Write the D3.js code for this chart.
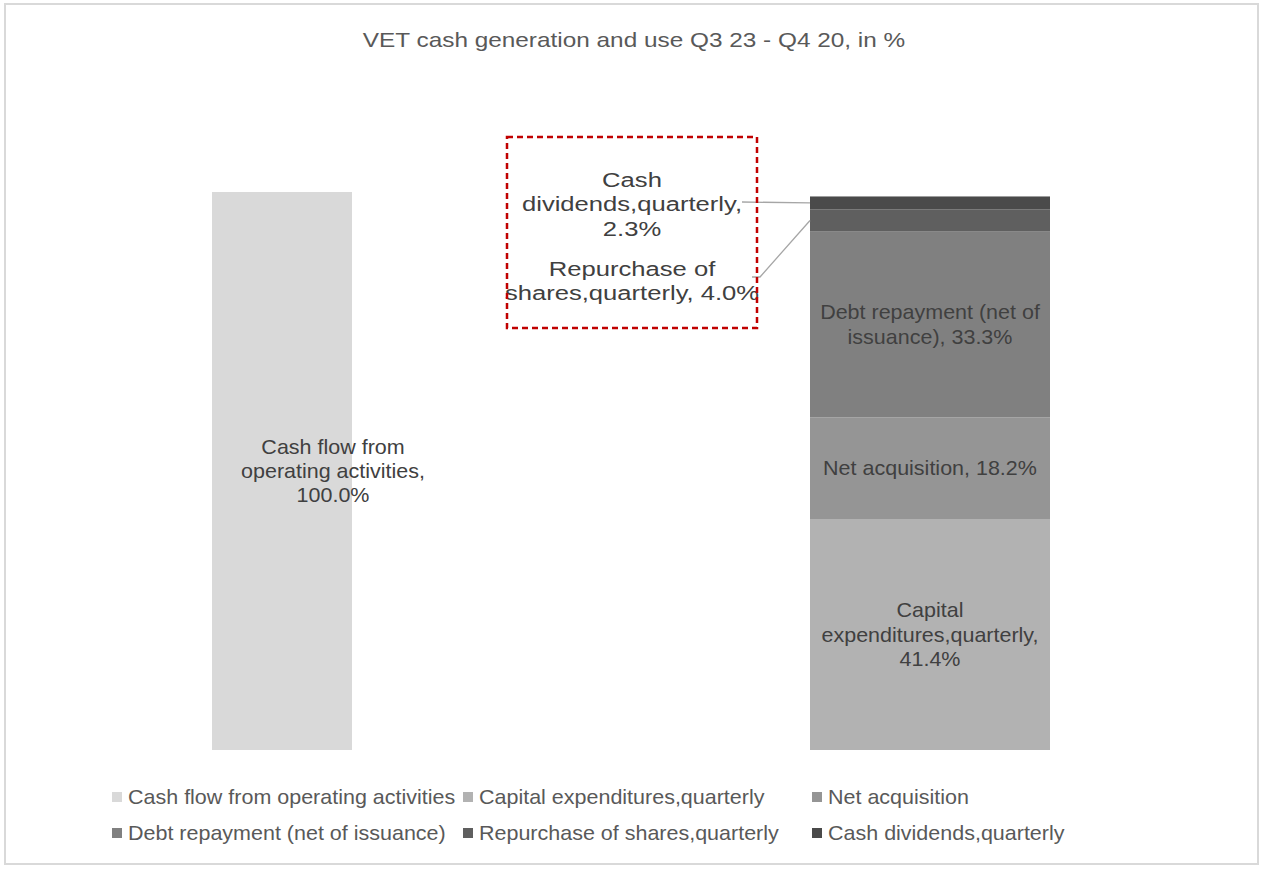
<!DOCTYPE html>
<html>
<head>
<meta charset="utf-8">
<script src="https://cdn.jsdelivr.net/npm/d3@7"></script>
<style>
  body { margin: 0; background: #fff; }
  text { font-family: "Liberation Sans", Arial, sans-serif; }
</style>
</head>
<body>
<div id="chart"></div>
<script>
// categories (bars) and stacked series
var bars = ["generation", "use"];
var seriesNames = [
    "Cash flow from operating activities",
    "Capital expenditures,quarterly",
    "Net acquisition",
    "Debt repayment (net of issuance)",
    "Repurchase of shares,quarterly",
    "Cash dividends,quarterly"
];
var seriesBar = ["generation", "use", "use", "use", "use", "use"];
var seriesValues = [100.0, 41.4, 18.2, 33.3, 4.0, 2.3];
var seriesLabels = [
    ["Cash flow from", "operating activities,", "100.0%"],
    ["Capital", "expenditures,quarterly,", "41.4%"],
    ["Net acquisition, 18.2%"],
    ["Debt repayment (net of", "issuance), 33.3%"],
    ["Repurchase of", "shares,quarterly, 4.0%"],
    ["Cash", "dividends,quarterly,", "2.3%"]
];
var colors = ["#d9d9d9", "#b2b2b2", "#959595", "#808080", "#5f5f5f", "#4a4a4a"];

var width = 1266, height = 871;
var barWidth = { generation: 140, use: 240 };
var labelShift = { generation: 51, use: 0 };

var svg = d3.select("#chart").append("svg")
    .attr("width", width)
    .attr("height", height);

// chart frame
svg.append("rect")
    .attr("x", 5).attr("y", 4)
    .attr("width", 1253).attr("height", 860)
    .attr("fill", "#fff")
    .attr("stroke", "#d9d9d9")
    .attr("stroke-width", 2);

// text is a bit wider than plain Arial in the original, so stretch it horizontally
var sx = 1.075, fs = 20, lh = 24.5;

function addText(px, py, anchor, size, stretch, color, lines) {
    var t = svg.append("text")
        .attr("transform", "translate(" + px + "," + py + ") scale(" + stretch + ",1)")
        .attr("text-anchor", anchor)
        .attr("fill", color)
        .style("font-size", size + "px");
    var n = lines.length;
    lines.forEach(function (line, k) {
        t.append("tspan")
            .attr("x", 0)
            .attr("y", (k - (n - 1) / 2) * lh + size * 0.35)
            .text(line);
    });
    return t;
}

addText(634, 40, "middle", 21, 1.16, "#595959", ["VET cash generation and use Q3 23 - Q4 20, in %"]);

var x = d3.scalePoint().domain(bars).range([282, 930]);
var y = d3.scaleLinear().domain([0, 100]).range([750, 192]);

// build stack positions
var offsets = {};
var segs = seriesNames.map(function (name, i) {
    var b = seriesBar[i];
    var y0 = offsets[b] || 0;
    var y1 = y0 + seriesValues[i];
    offsets[b] = y1;
    return { name: name, bar: b, y0: y0, y1: y1, color: colors[i], label: seriesLabels[i], idx: i };
});

svg.append("g").selectAll("rect")
    .data(segs)
    .enter()
    .append("rect")
    .attr("x", function (d) { return x(d.bar) - barWidth[d.bar] / 2; })
    .attr("width", function (d) { return barWidth[d.bar]; })
    .attr("y", function (d) { return y(d.y1); })
    .attr("height", function (d) { return y(d.y0) - y(d.y1); })
    .attr("fill", function (d) { return d.color; });

// labels inside bars (big segments)
segs.filter(function (d) { return d.y1 - d.y0 > 10; }).forEach(function (d) {
    var cy = (y(d.y0) + y(d.y1)) / 2;
    addText(x(d.bar) + labelShift[d.bar], cy, "middle", fs, sx, "#404040", d.label);
});

// callout labels for thin segments
var callout = [
    { idx: 5, cy: 204, from: [[742, 202]] },
    { idx: 4, cy: 280.5, from: [[752, 277], [760, 277]] }
];
callout.forEach(function (c) {
    var d = segs[c.idx];
    addText(632, c.cy, "middle", 21, 1.22, "#404040", d.label);
    var bx = x(d.bar) - barWidth[d.bar] / 2;
    var by = (y(d.y0) + y(d.y1)) / 2;
    svg.append("path")
        .attr("d", d3.line()(c.from.concat([[bx, by]])))
        .attr("fill", "none")
        .attr("stroke", "#a6a6a6")
        .attr("stroke-width", 1.3);
});

// red dashed box
svg.append("rect")
    .attr("x", 507).attr("y", 137)
    .attr("width", 250).attr("height", 191)
    .attr("fill", "none")
    .attr("stroke", "#c00000")
    .attr("stroke-width", 2.5)
    .attr("stroke-dasharray", "6,4");

// legend
var legendCols = [112, 463, 812];
var legendRows = [797, 833];
segs.forEach(function (d, i) {
    var lx = legendCols[i % 3], ly = legendRows[Math.floor(i / 3)];
    svg.append("rect")
        .attr("x", lx).attr("y", ly - 5)
        .attr("width", 10).attr("height", 10)
        .attr("fill", d.color);
    addText(lx + 16, ly, "start", fs, sx, "#595959", [d.name]);
});
</script>
</body>
</html>
